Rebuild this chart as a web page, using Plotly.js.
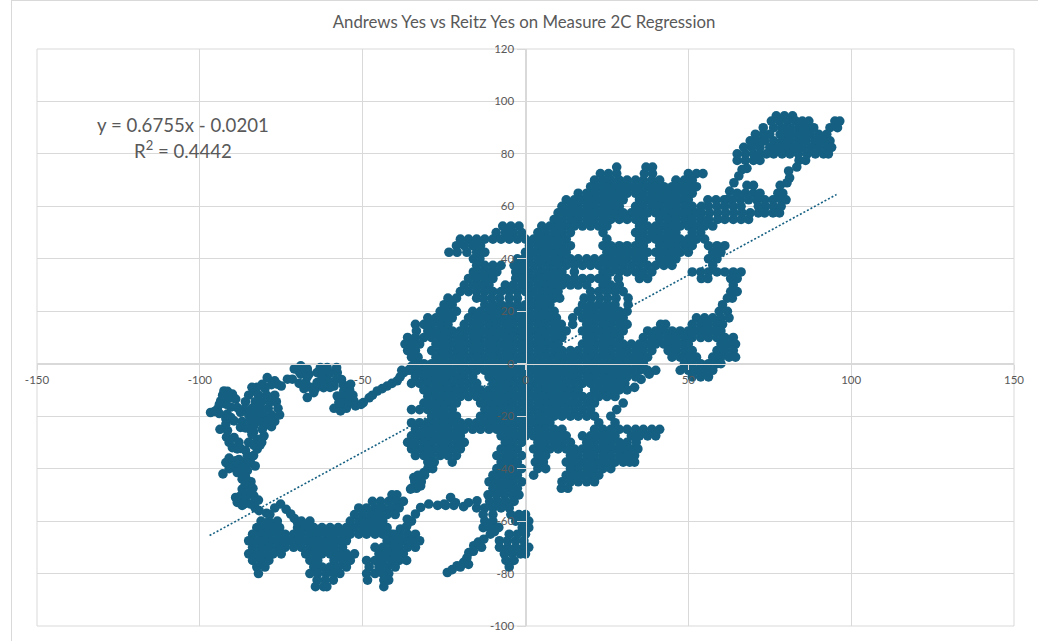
<!DOCTYPE html>
<html><head><meta charset="utf-8">
<script src="https://cdn.plot.ly/plotly-3.0.1.min.js"></script>
<style>html,body{margin:0;padding:0;background:#fff}#c{width:1038px;height:641px}</style>
</head><body><div id="c"></div>
<script>
const chartTitle = "Andrews Yes vs Reitz Yes on Measure 2C Regression";
const equationLines = ["y = 0.6755x - 0.0201", "R<sup>2</sup> = 0.4442"];
const trendX = [-97, 95.5];
const trendY = [-65.5, 64.5];
const xTicks = [-150,-100,-50,0,50,100,150];
const yTicks = [-100,-80,-60,-40,-20,0,20,40,60,80,100,120];

// each row: [y, x, x, x ...]
const rowsTopRight = [
[94.5,77,79.5,82],
[92.5,75.5,78,80.5,83,85,87,95,96.5],
[90,73,76.2,78.8,81.2,83.8,86.2,88.5,93.5,95.8],
[87.5,70.6,73,75,78.2,80,82.5,85,87.4,90,92.5],
[85,69,71.2,73.5,76.2,78.8,81.2,83.8,86.2,88.8,91.2,93.5],
[82.5,67,69.5,72,75,77.5,80,82.5,85,87.5,90,92.5,94],
[80,65,67.5,70,72,74,76.2,78.8,81.2,83.8,86.5,89,91.5,93],
[77.5,65,67.5,70,72,84,86],
[68,68,70,78.2],
[65,65,67.5,70,72,77.5,79],
[62.5,56,58.5,61,63.5,66,68.5,71,73.5,76,78.5,80],
[60,54,56.2,58.8,61.2,63.8,66.2,71.5,73.8,76.2,78.5],
[57.5,54,56.5,59,61.5,64,66.5,69,71.5,73.5,76,78],
[55,56,59,61.2,63.8,66.2,68.5]
];
const rowsUpperBody = [
[75,28,37,39],
[72.5,23,25.5,28,36.5,39,50,52.5,54.5],
[70,21.2,23.8,26.2,28.8,31.2,33.8,36.2,38.8,41.2,46.2,48.8,51.2],
[67.5,20,22.5,25,27.5,30,32.5,35,37.5,40,42.5,45,47.5,50,52.5],
[65,16.2,18.8,21.2,23.8,26.2,28.8,31.2,33.8,36.2,38.8,41.2,43.8,46.2,48.8,51.2],
[62.5,12.5,15,17.5,20,22.5,25,27.5,30,35,37.5,40,42.5,45,47.5,50],
[60,11.2,13.8,16.2,18.8,21.2,23.8,26.2,28.8,33.8,36.2,38.8,41.2,43.8,46.2,48.8,51.2],
[57.5,10,12.5,15,17.5,20,22.5,25,27.5,30,32.5,35,37.5,40,42.5,45,47.5,50,52.5],
[55,8.8,11.2,13.8,16.2,18.8,21.2,23.8,26.2,28.8,31.2,33.8,36.2,41.2,43.8,46.2,48.8,51.2,53.8,56.2],
[52.5,-7,-4.5,-2,5,7.5,10,12.5,15,17.5,20,22.5,25,35,37.5,40,42.5,45,47.5,50,52.5,55,57.5],
[50,-9,-6.2,-3.8,-1.2,3.8,6.2,8.8,11.2,13.8,23.8,33.8,36.2,38.8,41.2,43.8,46.2,51.2,53.8],
[47.5,-20,-17.5,-15,-12.5,-10,-7.5,-5,-2.5,0,2.5,5,7.5,10,12.5,25,35,37.5,40,42.5,45,47.5,50,52.5,55],
[45,-21.2,-18.8,-16.2,-13.8,1.2,3.8,6.2,8.8,11.2,13.8,23.8,26.2,28.8,31.2,33.8,36.2,41.2,43.8,46.2,48.8,51.2,56.2,58.8,61.2],
[42.5,-23.5,-21,-18,-15,-12.5,0,2.5,5,7.5,10,12.5,25,27.5,30,32.5,35,37.5,40,42.5,45,47.5,50,57.5,60],
[40,-16,-14,-2.5,-0.5,1.2,3.8,6.2,8.8,11.2,13.8,16.2,18.8,21.2,23.8,26.2,28.8,31.2,33.8,36.2,41.2,43.8,46.2,56.2,58.8],
[37.5,-15,-12.5,-10,-7.5,-3.5,-1.5,0,2.5,5,7.5,10,12.5,15,17.5,20,22.5,25,27.5,30,32.5,35,37.5,40,42.5,45,57.5],
[35,-16,-13.8,-11.2,-8.8,-3,-1,1.2,3.8,6.2,8.8,11.2,15,23.8,26.2,28.8,31.2,33.8,36.2,38.8,51.2,53.8,56.2,58.8,61.2,63.8,66.2],
[32.5,-17.5,-15,-12.5,-10,-3,-1,0,2.5,5,7.5,10,12.5,15,17.5,20,22.5,25,28.5,35,37.5,54,56,63,65],
[30,-18.8,-16.2,-13.8,-11.2,-6.2,-3.8,-1.2,1.2,3.8,6.2,8.8,11.2,13.8,16.2,18.8,23.8,26.2,28.8,63.8],
[27.5,-20,-17.5,-15,-12.5,-10,-7.5,-5,-2.5,0,2.5,5,7.5,10,20,22.5,25,27.5,30,63,65],
[25,-23.8,-21.2,-15,-13,-10.5,-8,-5,-2.5,1.2,3.8,6.2,8.8,10.5,18,20.2,22.8,25.2,27.8,31.5,62,63.5],
[22.5,-25,-22.5,-12.5,-10,-7.5,-5,-2.5,0,2.5,5,7.5,17.5,20,22.5,25,27.5,31.5,60.5],
[20,-26.2,-23.8,-21.2,-16.2,-13.8,-11.2,-8.8,-6.2,-3.8,-1.2,1.2,3.8,6.2,8.8,16.2,18.8,21.2,23.8,26.2,28.8,31.2,59.5,62],
[17.5,-30,-27.5,-25,-22.5,-17.5,-15,-12.5,-10,-7.5,-5,-2.5,0,2.5,5,7.5,9.5,14.5,17.5,20,22.5,25,27.5,30,52.5,55,57.5,60,62.5]
];
const rowsCentre = [
[15,-33.8,-31.2,-28.8,-26.2,-23.8,-18.8,-16.2,-13.8,-11.2,-8.8,-6.2,-3.8,-1.2,1.2,3.8,6.2,8.8,11,14.5,18.8,21.2,23.8,26.2,28.8,31.2,41.5,43,51.2,53.8,56.2,58.8,60.5],
[12.5,-33.5,-30,-27.5,-25,-22.5,-20,-17.5,-15,-12.5,-10,-7.5,-5,-2.5,0,2.5,5,7.5,10,12.5,17.5,20,22.5,25,27.5,30,37.5,40,42.5,45,47.5,50,52.5,55,57.5,60],
[10,-36.2,-33.8,-31.2,-28.8,-26.2,-23.8,-21.2,-18.8,-16.2,-13.8,-11.2,-8.8,-6.2,-3.8,-1.2,1.2,3.8,6.2,8.8,11.2,18.8,21.2,23.8,26.2,28.8,36.2,38.8,41.2,43.8,46.2,48.8,51.2,53.8,56.2,58.8,61.2,63.8],
[7.5,-37,-35,-32.5,-27.5,-25,-22.5,-20,-17.5,-15,-12.5,-10,-7.5,-5,-2.5,0,2.5,5,7.5,10,17.5,20,22.5,25,27.5,30,32.5,35,37.5,40,42.5,45,47.5,50,60,62.5,64.5],
[5,-36.2,-33.8,-28.8,-26.2,-23.8,-21.2,-18.8,-16.2,-13.8,-11.2,-8.8,-6.2,-3.8,-1.2,1.2,3.8,6.2,8.8,11.2,13.8,16.2,18.8,21.2,23.8,26.2,28.8,31.2,33.8,36.2,38.8,43.8,46.2,48.8,51.2,58.8,61.2,63.8],
[2.5,-35,-33,-27.5,-25,-22.5,-20,-17.5,-15,-12.5,-10,-7.5,-5,-2.5,0,2.5,5,7.5,10,12.5,15,17.5,20,22.5,25,27.5,30,32.5,35,37.5,45,47.5,50,52.5,57.5,60,62.5,64.5],
[0,-33.8,-31.2,-28.8,-26.2,-23.8,-21.2,-18.8,-16.2,-13.8,-11.2,-8.8,-6.2,-3.8,-1.2,1.2,3.8,6.2,8.8,11.2,13.8,16.2,18.8,21.2,23.8,26.2,28.8,31.2,33.8,36.2,48.8,51.2,53.8,56.2,58.8,60],
[-2.5,-38,-35,-32.5,-30,-27.5,-25,-22.5,-20,-17.5,-15,-12.5,-10,-7.5,-5,-2.5,0,2.5,5,7.5,10,12.5,15,17.5,20,22.5,25,27.5,30,32.5,35,37.5,40,47.5,50,52.5,55,57.5],
[-5,-33.8,-31.2,-28.8,-26.2,-23.8,-21.2,-18.8,-16.2,-11.2,-8.8,-6.2,-3.8,-1.2,1.2,3.8,6.2,8.8,11.2,13.8,16.2,18.8,21.2,23.8,26.2,28.8,31.2,33.8,51.2,53.8,56.2],
[-7.5,-35,-32.5,-30,-27.5,-25,-22.5,-20,-17.5,-15,-10,-7.5,-5,-2.5,0,2.5,5,7.5,10,12.5,15,17.5,20,22.5,25,27.5,30,30.5],
[-10,-31.2,-28.8,-26.2,-23.8,-21.2,-18.8,-16.2,-13.8,-11.2,-8.8,-6.2,-3.8,-1.2,1.2,3.8,6.2,8.8,11.2,13.8,16.2,21.2,23.8,26.2,28.8,31.2],
[-12.5,-30,-27.5,-25,-22.5,-20,-17.5,-15,-12.5,-10,-7.5,-5,-2.5,0,2.5,5,7.5,10,12.5,15,17.5,20,22.5,25,27.5],
[-15,-31.2,-28.8,-26.2,-23.8,-21.2,-13.8,-11.2,-8.8,-6.2,-3.8,-1.2,1.2,3.8,6.2,8.8,11.2,13.8,16.2,18.8,21.2,30],
[-17.5,-35,-32.5,-30,-27.5,-25,-22.5,-12.5,-10,-7.5,-5,-2.5,0,2.5,5,7.5,10,12.5,15,17.5,20,28],
[-20,-28.8,-26.2,-23.8,-21.2,-13.8,-11.2,-8.8,-6.2,-3.8,-1.2,1.2,3.8,6.2,8.8,11.2,13.8,16.2,18.8,21.2,26.2],
[-22.5,-35,-32.5,-30,-27.5,-25,-22.5,-20,-17.5,-15,-12.5,-10,-7.5,-5,-2.5,0,2.5,5,7.5,22.5,27.5],
[-25,-33.8,-31.2,-28.8,-26.2,-23.8,-21.2,-18.8,-16.2,-13.8,-11.2,-8.8,-6.2,-3.8,-1.2,1.2,3.8,6.2,8.8,11.2,21.2,23.8,26.2,28.8,31.2,33.8,36.2,38.8,41.2],
[-27.5,-35,-32.5,-30,-27.5,-25,-22.5,-20,-7.5,-5,-2.5,0,2.5,5,7.5,10,12.5,17.5,20,22.5,25,27.5,32.5,35,37.5,40],
[-30,-36.2,-33.8,-31.2,-28.8,-26.2,-23.8,-21.2,-18.8,-6.2,-3.8,-1.2,3.8,6.2,8.8,11.2,13.8,18.8,21.2,23.8,26.2,28.8,31.2,34],
[-32.5,-35,-32.5,-30,-27.5,-25,-22.5,-20,-7.5,-5,-2.5,2.5,5,7.5,10,12.5,15,17.5,20,22.5,25,27.5,30,32.5,34.5],
[-35,-33.8,-31.2,-28.8,-26.2,-23.8,-21.2,-8.8,-6.2,-3.8,-1.2,3.8,6.2,13.8,16.2,18.8,21.2,23.8,26.2,28.8,31.2,33.5],
[-37.5,-30,-28,-22.5,-7.5,-5,-2.5,3,5.5,12.5,15,17.5,20,22.5,25,27.5,30,32,33.5],
[-40,-30,-28.5,-8.8,-6.2,-3.8,-1.2,3.8,6.2,13.8,16.2,18.8,21.2,23.8,26.2],
[-42.5,-33,-31,-10,-7.5,-5,-2.5,2.5,12.5,15,17.5,20,22.5],
[-45,-34,-32,-11.2,-8.8,-6.2,-3.8,-1.2,11.2,13.8,16.2,18.8,21.2],
[-47.5,-35,-33.5,-10,-7.5,-5,-2.5,11,13]
];
const rowsBottom = [
[-50,-41,-39.5,-11.5,-9,-6.5,-4,-2],
[-52.5,-47,-44.5,-42,-39.5,-37.5,-11,-8.5,-6,-3.5],
[-55,-51.2,-48.8,-46.2,-43.8,-41.2,-38.8,-15,-12.5,-10,-7.5,-5],
[-57.5,-52.5,-50,-47.5,-45,-42.5,-40,-13,-10,-4.5,-2,0],
[-60,-81.2,-78.8,-76.2,-68.8,-66.2,-53.8,-51.2,-48.8,-46.2,-43.8,-12.5,-10,-3,-0.5,1],
[-62.5,-82.5,-80,-77.5,-75.5,-70,-67.5,-65,-62.5,-60,-57.5,-55,-52.5,-50,-47.5,-45,-42.5,-13,-11,-8.5,-1,1],
[-65,-83.8,-81.2,-78.8,-76.2,-73.8,-71.2,-68.8,-66.2,-63.8,-61.2,-58.8,-56.2,-53.8,-51.2,-48.8,-46.2,-43.8,-41.2,-38.8,-36.2,-33.8,-5,-2.5,0],
[-67.5,-85,-82.5,-80,-77.5,-75,-72.5,-70,-67.5,-65,-62.5,-60,-57.5,-55,-42.5,-40,-37.5,-35,-32.5,-8,-5.5,-3,-0.5],
[-70,-83.8,-81.2,-78.8,-76.2,-73.8,-71.2,-68.8,-66.2,-63.8,-61.2,-58.8,-56.2,-46.2,-43.8,-41.2,-38.8,-36.2,-33.8,-8,-5.5,-3,-0.5,1],
[-72.5,-85,-82.5,-80,-77.5,-75,-67.5,-65,-62.5,-60,-57.5,-55,-52.5,-45,-42.5,-40,-37.5,-6.5,-4,-1.5,0],
[-75,-83.8,-81.2,-78.8,-66.2,-63.8,-58.8,-56.2,-53.8,-48.8,-46.2,-43.8,-41.2,-38.8,-36.5,-6,-3.5],
[-77.5,-82.5,-80,-65,-62.5,-60,-57.5,-55,-48,-45,-42.5,-40,-5],
[-80,-82,-66.2,-63.8,-61.2,-58.8,-57,-48.8,-46.2,-43.8,-42],
[-82.5,-64,-61.5,-59,-48.5,-43.5,-42],
[-85,-64.5,-62,-61,-43.5]
];
// thin runs of points: x, y, x, y ...
const strandUpperLeft = [-33.3,1.1,-34,0,-35,-1,-36,-2.5,-37.4,-3.4,-38.5,-5,-39.4,-6.5,-41,-7.5,-42.5,-8.5,-44,-9.5,-45.5,-10.4,-47,-12,-48,-13,-49.8,-14.8,
-53.7,-7.8,-55.8,-10.4,-57.8,-12.3,-55.5,-12.5,-52.7,-14.2,-52.2,-16.1,-54.7,-15.4,-56.8,-18,-58.8,-17,-57.3,-14.8,-54,-10,-56,-8,-54,-12.5,-56,-15,-53,-12,-55,-17,-50.5,-15.5,
-69,-0.8,-71.6,-5.9,-73.1,-5.9,-69.5,-3,-67.5,-7.2,-67,-12.9,-65,-11,-62,-9.1,-58.8,-8.5,-57.8,-3.4,-60.9,-1.5,-64,-3.4,-64,-7.2,-66.5,-4,-61,-6,-58,-6,-61.5,-4,
-71,-2,-69,-4,-67,-2,-67,-5,-69.5,-7.5,-68,-9.5,-66,-9,-63,-1.5,-62.5,-5,-62.5,-8,-60,-9,-60,-3.5,-58,-1.5,-59.5,-7,-56.5,-6,-64.5,-9.5,
-76.2,-7.8,-79.3,-5.3,-80.8,-7.8,-83.4,-10.4,-78,-8,-84,-9,-82.5,-9,-80,-9.5,-77,-6.5,-75,-8.5];
const strandFarLeft = [-85,-12,-82,-12,-79.5,-12,-77,-12,-86,-14.5,-83,-14.5,-81,-14.5,-78.5,-14.5,-76.5,-14.5,-84,-17,-81.5,-17,-79,-17,-76,-17,-83,-19.5,-80.5,-19.5,-78,-19.5,-75.5,-19.5,-87,-22,-84.5,-22,-82,-22,-79.5,-22,-77,-22,
-96.7,-18.6,-94.6,-17.3,-93.6,-14.2,-92.6,-10.4,-90,-11.6,-92,-15.4,-88.5,-16.7,-86.4,-17.3,-91.6,-19.2,-89.5,-21.8,-87.5,-24.3,-83.4,-23.7,-91,-13,-94,-19,-92.5,-12.5,
-95.5,-18.2,-94,-15.5,-93,-12,-91.5,-10.5,-89,-13.5,-90.5,-16.5,-87.5,-18.5,-85,-19.5,-86,-24.5,-84.5,-25,-90.5,-20.5,-91.5,-25.5,-92,-21,
-93.8,-25,-92,-23,-91.8,-28,-90,-32,-87.5,-32.3,-89.5,-28.1,-85,-30,-82.4,-32.6,-80.3,-27.5,-82.4,-28.8,-80.8,-25,-91,-30,-88,-30,-83.5,-26,-81,-30,-88.5,-32.5,-83.5,-31,-81.5,-31,-84,-27,-80,-23.5,-78,-24,
-85.4,-35,-84.4,-37.7,-92,-37.7,-92.9,-42,-89.5,-39.6,-87,-42,-87.5,-39,-85.4,-40.8,-90,-38,-86,-37.5,-87,-44,-85.5,-44.5,-86,-33,-83.5,-35,-85.5,-38,-83,-39,-91,-36,-89,-37,-88,-36.5,-91,-40,-88.5,-41.5,-86,-43,-84.3,-45,
-84.9,-46.3,-87,-47.8,-87.5,-50.4,-88.5,-52.9,-85.9,-51,-83.4,-50.4,-84.4,-53.5,-81.8,-56,-86.5,-53.5,-83,-55,-79.5,-57,-86,-46,-83.7,-47.5,-89,-51,-86.5,-49.5,-84.5,-49,-82,-52,-83,-52.5,-87,-54,
-75.2,-53.5,-77,-55,-78.5,-57.5,-73.5,-55.5,-72.1,-57.3,-71,-59,-70,-60.5,-67.5,-61.8];
const strandLowerMiddle = [-33.8,-57.3,-35,-60,-36.3,-59.3,-36.5,-62,-38.4,-63,-40.4,-65,
-32.2,-54.8,-29.7,-53.5,-27,-54,-25,-53.5,-23,-51,-22,-54,-19,-54.5,-17.5,-53,-14.9,-52.3,-24.5,-54,-21.5,-53,
-29.2,-37.7,-31.2,-41.5,-34.3,-43.4,-32.2,-46.6,-35.3,-47.8,
-24,-79.6,-22.5,-78.5,-21,-77,-19,-75.7,-18,-74,-17.4,-72,-15.9,-69.4,-14.5,-68,-12.8,-66.9,-10.8,-65,-9.5,-64,-8.2,-62.4,-17.5,-76.5,-20,-77.5,-16,-71.5,-13.5,-70];
const strandUpperRight = [83.3,75,80.8,73.5,81.1,70.9,80.3,69,66.5,74,65.5,71.6,64,69,62.7,65.8,62.1,62.7,68,74.5,
37.4,-3,33.5,-9,38,-4,35.5,-6];

const xValues = [], yValues = [];
[rowsTopRight, rowsUpperBody, rowsCentre, rowsBottom].forEach(group => group.forEach(row => {
  for (let i = 1; i < row.length; i++) { xValues.push(row[i]); yValues.push(row[0]); }
}));
[strandUpperLeft, strandFarLeft, strandLowerMiddle, strandUpperRight].forEach(s => {
  for (let i = 0; i < s.length; i += 2) { xValues.push(s[i]); yValues.push(s[i+1]); }
});

const GREY = '#595959', GRID = '#d9d9d9', BLUE = '#156082', FONT = 'Lato, sans-serif';
Plotly.newPlot('c', [
  {x: trendX, y: trendY, mode: 'lines', line: {color: BLUE, width: 1.6, dash: '2px,2px'}, hoverinfo: 'skip'},
  {x: xValues, y: yValues, mode: 'markers', type: 'scatter', marker: {color: BLUE, size: 9.6, line: {width: 0}}}
], {
  width: 1038, height: 641, showlegend: false,
  paper_bgcolor: '#fff', plot_bgcolor: '#fff',
  margin: {l: 36.5, r: 24, t: 49, b: 15},
  title: {text: chartTitle, x: 524/1038, xanchor: 'center', y: 1 - 22/641, yanchor: 'middle',
    font: {family: FONT, size: 16.8, color: GREY}},
  font: {family: FONT, color: GREY},
  xaxis: {range: [-150, 150], tickvals: xTicks, ticktext: xTicks.map(String), anchor: 'free', position: 100/220,
    showgrid: true, gridcolor: GRID, gridwidth: 1, zeroline: false, showline: true, linecolor: GRID, linewidth: 1,
    ticks: 'outside', ticklen: 5, tickcolor: GRID, tickfont: {size: 11.5, color: GREY}},
  yaxis: {range: [-100, 120], tickvals: yTicks, ticktext: yTicks.map(String), anchor: 'free', position: 0.5,
    showgrid: true, gridcolor: GRID, gridwidth: 1, zeroline: false, showline: true, linecolor: GRID, linewidth: 1.5,
    ticks: 'outside', ticklen: 9, tickcolor: GRID, tickfont: {size: 11.5, color: GREY}},
  annotations: [
    {text: equationLines[0], xref: 'x', yref: 'y', x: -105.2, y: 91, showarrow: false, font: {family: FONT, size: 18.6, color: GREY}},
    {text: equationLines[1], xref: 'x', yref: 'y', x: -105.2, y: 81.5, showarrow: false, font: {family: FONT, size: 18.6, color: GREY}}
  ],
  shapes: [
    {type: 'rect', xref: 'paper', yref: 'paper', x0: 0, x1: 1, y0: 0, y1: 1, line: {color: GRID, width: 1}, layer: 'below'},
    {type: 'line', xref: 'paper', yref: 'paper', x0: -25.5/977.5, x1: -25.5/977.5, y0: -15/577, y1: 49/577 + 1, line: {color: GRID, width: 1}},
    {type: 'line', xref: 'paper', yref: 'paper', x0: -25.5/977.5, x1: 1 + 24/977.5, y0: 1 + 48.5/577, y1: 1 + 48.5/577, line: {color: GRID, width: 1}}
  ]
}, {staticPlot: true});
</script></body></html>
